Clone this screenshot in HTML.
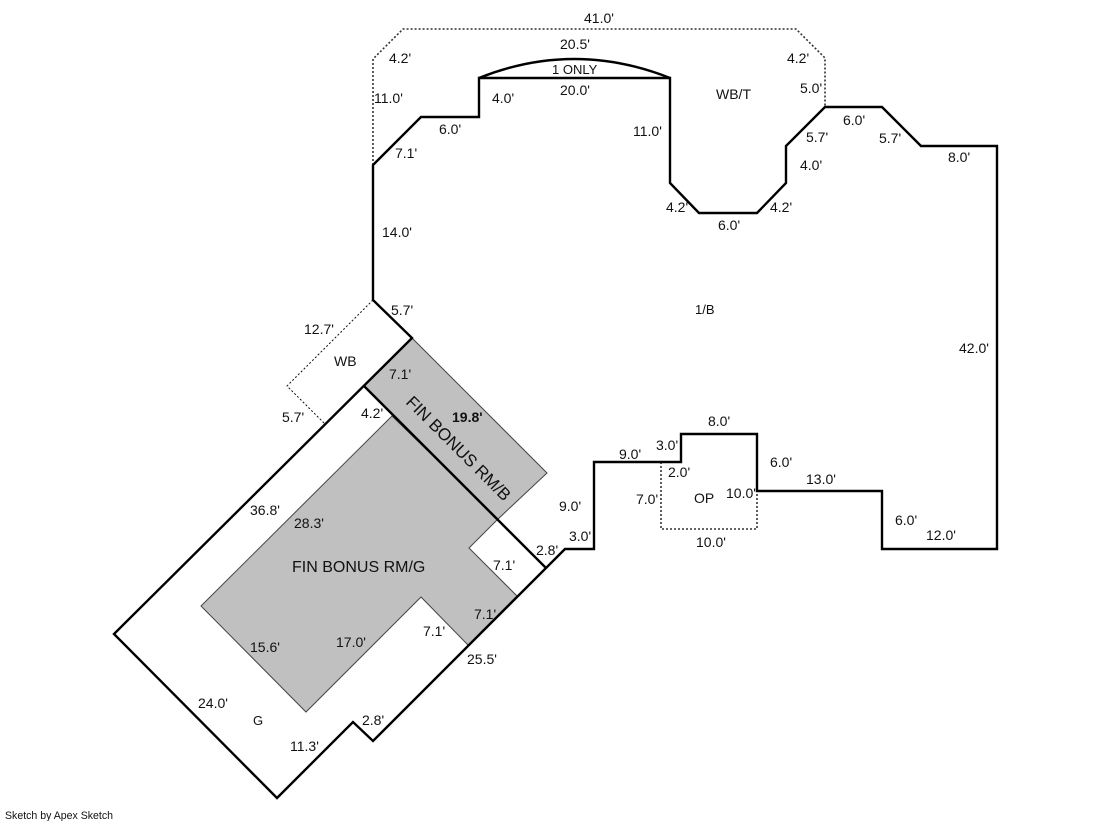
<!DOCTYPE html>
<html><head><meta charset="utf-8"><style>
html,body{margin:0;padding:0;background:#fff;width:1119px;height:821px;overflow:hidden}
svg{display:block}
text{font-family:"Liberation Sans",Arial,sans-serif;font-size:14px;fill:#111}
</style></head><body>
<svg width="1119" height="821" viewBox="0 0 1119 821" xmlns="http://www.w3.org/2000/svg">
<g fill="#c0c0c0" stroke="#444" stroke-width="1">
<polygon points="412,338 547,473 498,519 364,386"/>
<polygon points="392,416 498,519 469,548 517,596 468,645 421,597 306,712 201,606"/>
</g>
<g fill="none" stroke="#333" stroke-width="1.6" stroke-dasharray="2 2">
<path d="M373,165V59L403,29H796L825,58V107"/>
<path d="M661,462V529H757V491"/>
</g>
<path d="M373,300L287,386L325,424" fill="none" stroke="#111" stroke-width="1" stroke-dasharray="2 2"/>
<g fill="none" stroke="#000" stroke-width="2.4" stroke-linejoin="miter">
<path d="M373,300V165L421,117H479V78H670V183L699,213H757L786,183V146L825,107H882L921,146H997V549H882V491H757V434H681V462H594V549H565L546,568L373,741L353,722L277,798L114,634L412,338Z"/>
<path d="M364,386L546,568"/>
<path d="M479,78Q574,40 670,78"/>
</g>
<text x="584" y="23">41.0'</text>
<text x="560" y="49">20.5'</text>
<text x="552" y="74" style="font-size:13px">1 ONLY</text>
<text x="560" y="95">20.0'</text>
<text x="389" y="63">4.2'</text>
<text x="374" y="103">11.0'</text>
<text x="492" y="103">4.0'</text>
<text x="439" y="134">6.0'</text>
<text x="395" y="158">7.1'</text>
<text x="633" y="136">11.0'</text>
<text x="716" y="99">WB/T</text>
<text x="787" y="63">4.2'</text>
<text x="800" y="93">5.0'</text>
<text x="806" y="142">5.7'</text>
<text x="843" y="125">6.0'</text>
<text x="879" y="143">5.7'</text>
<text x="948" y="162">8.0'</text>
<text x="800" y="170">4.0'</text>
<text x="666" y="212">4.2'</text>
<text x="770" y="212">4.2'</text>
<text x="718" y="230">6.0'</text>
<text x="382" y="237">14.0'</text>
<text x="695" y="314" style="font-size:13px">1/B</text>
<text x="959" y="353">42.0'</text>
<text x="391" y="315">5.7'</text>
<text x="304" y="334">12.7'</text>
<text x="334" y="366">WB</text>
<text x="389" y="379">7.1'</text>
<text x="282" y="422">5.7'</text>
<text x="361" y="418">4.2'</text>
<text x="452" y="422" style="font-weight:bold;font-size:14px">19.8'</text>
<text transform="translate(405,403) rotate(45)" style="font-size:17px">FIN BONUS RM/B</text>
<text x="250" y="515">36.8'</text>
<text x="294" y="528">28.3'</text>
<text x="292" y="572" style="font-size:16px">FIN BONUS RM/G</text>
<text x="493" y="570">7.1'</text>
<text x="536" y="555">2.8'</text>
<text x="559" y="511">9.0'</text>
<text x="569" y="541">3.0'</text>
<text x="619" y="459">9.0'</text>
<text x="656" y="450">3.0'</text>
<text x="668" y="477">2.0'</text>
<text x="636" y="504">7.0'</text>
<text x="694" y="503" style="font-size:14px">OP</text>
<text x="726" y="498">10.0'</text>
<text x="708" y="426">8.0'</text>
<text x="770" y="467">6.0'</text>
<text x="806" y="484">13.0'</text>
<text x="895" y="525">6.0'</text>
<text x="926" y="540">12.0'</text>
<text x="696" y="547">10.0'</text>
<text x="474" y="619">7.1'</text>
<text x="423" y="636">7.1'</text>
<text x="336" y="647">17.0'</text>
<text x="250" y="652">15.6'</text>
<text x="467" y="664">25.5'</text>
<text x="198" y="708">24.0'</text>
<text x="253" y="725" style="font-size:13px">G</text>
<text x="362" y="725">2.8'</text>
<text x="290" y="751">11.3'</text>
<text x="5" y="819" style="font-size:11px" textLength="108" lengthAdjust="spacingAndGlyphs">Sketch by Apex Sketch</text>
</svg>
</body></html>
